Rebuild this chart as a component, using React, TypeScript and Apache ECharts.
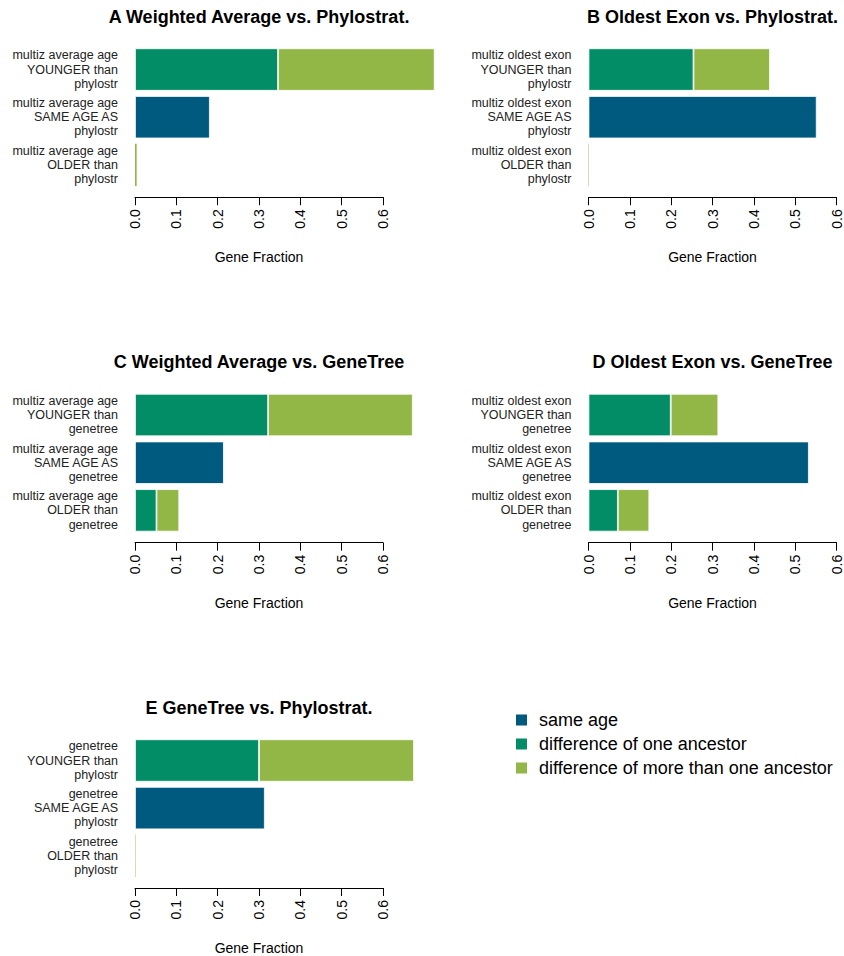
import React, { useEffect, useRef } from "react";
import * as echarts from "echarts";

const panelTitles = [
  "A Weighted Average vs. Phylostrat.",
  "B Oldest Exon vs. Phylostrat.",
  "C Weighted Average vs. GeneTree",
  "D Oldest Exon vs. GeneTree",
  "E GeneTree vs. Phylostrat.",
];

const panelCategories = [
  ["multiz average age\nYOUNGER than\nphylostr", "multiz average age\nSAME AGE AS\nphylostr", "multiz average age\nOLDER than\nphylostr"],
  ["multiz oldest exon\nYOUNGER than\nphylostr", "multiz oldest exon\nSAME AGE AS\nphylostr", "multiz oldest exon\nOLDER than\nphylostr"],
  ["multiz average age\nYOUNGER than\ngenetree", "multiz average age\nSAME AGE AS\ngenetree", "multiz average age\nOLDER than\ngenetree"],
  ["multiz oldest exon\nYOUNGER than\ngenetree", "multiz oldest exon\nSAME AGE AS\ngenetree", "multiz oldest exon\nOLDER than\ngenetree"],
  ["genetree\nYOUNGER than\nphylostr", "genetree\nSAME AGE AS\nphylostr", "genetree\nOLDER than\nphylostr"],
];

const seriesNames = ["same age", "difference of one ancestor", "difference of more than one ancestor"];
const seriesColors = ["#00597F", "#028D66", "#93B746"];

// per panel: [YOUNGER, SAME AGE, OLDER]
const sameAge = [
  [0, 0.181, 0],
  [0, 0.552, 0],
  [0, 0.215, 0],
  [0, 0.533, 0],
  [0, 0.314, 0],
];
const oneAncestor = [
  [0.346, 0, 0],
  [0.254, 0, 0],
  [0.322, 0, 0.052],
  [0.199, 0, 0.071],
  [0.3, 0, 0],
];
const moreAncestors = [
  [0.379, 0, 0.004],
  [0.185, 0, 0.001],
  [0.35, 0, 0.055],
  [0.115, 0, 0.076],
  [0.375, 0, 0.001],
];

const xMin = 0;
const xMax = 0.6;
const xInterval = 0.1;
const xTitle = "Gene Fraction";

const FONT = '"Liberation Sans", Arial, Helvetica, sans-serif';

export default function App() {
  const ref = useRef<HTMLDivElement>(null);

  useEffect(() => {
    if (!ref.current) return;
    const chart = echarts.init(ref.current, null, { renderer: "svg" });

    const colLeft = [135, 588.5];
    const plotW = 248;
    const rowTop0 = 45.7;
    const rowStep = 345.5;
    const plotH = 143;

    const grids: any[] = [];
    const xAxes: any[] = [];
    const yAxes: any[] = [];
    const series: any[] = [];
    const graphics: any[] = [];
    const allValues = [sameAge, oneAncestor, moreAncestors];

    panelTitles.forEach((title, i) => {
      const col = i % 2;
      const row = Math.floor(i / 2);
      const left = colLeft[col];
      const top = rowTop0 + row * rowStep;
      grids.push({ left, top, width: plotW, height: plotH, containLabel: false });
      xAxes.push({
        gridIndex: i,
        type: "value",
        min: xMin,
        max: xMax,
        interval: xInterval,
        offset: 8.5,
        axisLine: { show: true, lineStyle: { color: "#000", width: 1 } },
        axisTick: { show: true, length: 8, lineStyle: { color: "#000", width: 1 } },
        axisLabel: {
          rotate: 90,
          fontSize: 14,
          color: "#000",
          margin: 12,
          fontFamily: FONT,
          showMinLabel: true,
          showMaxLabel: true,
          formatter: (v: number) => v.toFixed(1),
        },
        splitLine: { show: false },
        name: xTitle,
        nameLocation: "middle",
        nameGap: 53,
        nameTextStyle: { fontSize: 14, color: "#000", fontFamily: FONT },
      });
      yAxes.push({
        gridIndex: i,
        type: "category",
        inverse: true,
        data: panelCategories[i],
        axisLine: { show: false },
        axisTick: { show: false },
        axisLabel: {
          fontSize: 12.5,
          lineHeight: 14.2,
          color: "#222",
          margin: 17,
          align: "right",
          fontFamily: FONT,
        },
      });
      seriesNames.forEach((name, s) => {
        series.push({
          name,
          type: "bar",
          stack: "p" + i,
          xAxisIndex: i,
          yAxisIndex: i,
          barCategoryGap: "11%",
          clip: false,
          itemStyle: { color: seriesColors[s], borderColor: "#ffffff", borderWidth: 0.8 },
          data: allValues[s][i].map((v) =>
            v === 0 ? "-" : v < 0.01 ? { value: v, itemStyle: { borderWidth: 0 } } : v
          ),
        });
      });
      graphics.push({
        type: "text",
        x: left + plotW / 2,
        y: [17, 361.7, 708.3][row],
        style: {
          text: title,
          font: `bold 18px ${FONT}`,
          textAlign: "center",
          textVerticalAlign: "middle",
          fill: "#000",
        },
      });
    });

    chart.setOption({
      animation: false,
      textStyle: { fontFamily: FONT },
      grid: grids,
      xAxis: xAxes,
      yAxis: yAxes,
      series,
      graphic: graphics,
      legend: {
        data: seriesNames,
        orient: "vertical",
        left: 514,
        top: 711,
        padding: 0,
        icon: "rect",
        itemWidth: 13,
        itemHeight: 13,
        itemGap: 6,
        selectedMode: false,
        textStyle: { fontSize: 18, color: "#000", fontFamily: FONT, padding: [0, 0, 0, 6] },
      },
    });

    return () => chart.dispose();
  }, []);

  return (
    <div
      ref={ref}
      style={{ position: "fixed", left: 0, top: 0, width: 844, height: 956, background: "#fff" }}
    />
  );
}
